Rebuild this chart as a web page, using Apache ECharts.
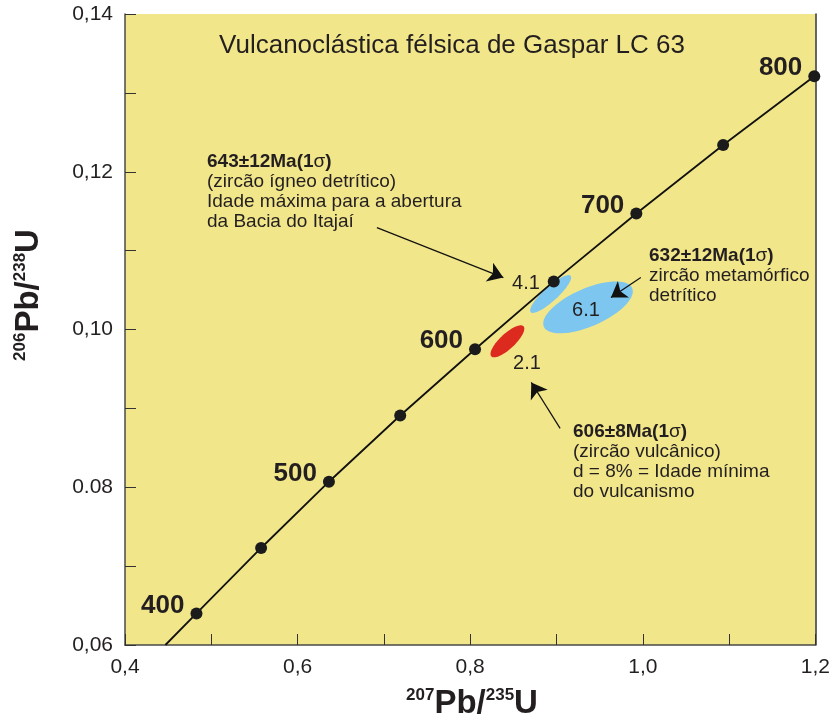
<!DOCTYPE html>
<html><head><meta charset="utf-8">
<script src="https://cdn.jsdelivr.net/npm/echarts@6/dist/echarts.min.js"></script>
<style>html,body{margin:0;padding:0;background:#fff}#c{width:833px;height:724px}</style>
</head><body><div id="c"></div>
<script>
// ---- data ----
var concordiaAges = [400, 450, 500, 550, 600, 650, 700, 750, 800];
var concordiaX = [0.4828, 0.5577, 0.6363, 0.7189, 0.8056, 0.8968, 0.9925, 1.0931, 1.1987];
var concordiaY = [0.0640, 0.0723, 0.0807, 0.0891, 0.0975, 0.1061, 0.1147, 0.1234, 0.1321];
var concordiaStart = [0.4468, 0.0600];
var labelledAges = [400, 500, 600, 700, 800];

var ellipseNames = ['4.1', '6.1', '2.1'];
var ellipseCX = [0.8932, 0.9365, 0.8431];
var ellipseCY = [0.1045, 0.1028, 0.0985];
var ellipseSX = [0.0237, 0.0519, 0.0196];
var ellipseSY = [0.00240, 0.00329, 0.00203];
var ellipseRho = [0.87, 0.62, 0.79];

var arrowFrom = [[0.6919, 0.11291], [0.9977, 0.10658], [0.9042, 0.08747]];
var arrowTo = [[0.8384, 0.10658], [0.9631, 0.10405], [0.8708, 0.09329]];

var yTickValues = [0.06, 0.08, 0.10, 0.12, 0.14];
var yTickLabels = ['0,06', '0.08', '0,10', '0,12', '0,14'];
var xTickValues = [0.4, 0.6, 0.8, 1.0, 1.2];
var xTickLabels = ['0,4', '0,6', '0,8', '1,0', '1,2'];

// ---- styles ----
var FONT = 'Liberation Sans, Arial, sans-serif';
var TXT = '#231f20';
var ellipseColors = {'4.1': '#7cc6ef', '6.1': '#7cc6ef', '2.1': '#dc2a1f'};

var chart = echarts.init(document.getElementById('c'));

function lookup(vals, labs, v) {
  for (var i = 0; i < vals.length; i++) if (Math.abs(vals[i] - v) < 1e-6) return labs[i];
  return '';
}

var linePts = [concordiaStart].concat(concordiaX.map(function (x, i) { return [x, concordiaY[i]]; }));
var dotPts = concordiaX.map(function (x, i) { return [x, concordiaY[i], concordiaAges[i]]; });
var ellData = ellipseNames.map(function (n, i) {
  return {name: n, value: [ellipseCX[i], ellipseCY[i], ellipseSX[i], ellipseSY[i], ellipseRho[i]]};
});
var arrowData = arrowFrom.map(function (f, i) { return {coords: [f, arrowTo[i]]}; });

function txt(x, y, rows) {
  return {type: 'text', x: x, y: y, z: 100, style: {
    text: rows, font: '19px ' + FONT, fill: TXT, lineHeight: 20,
    textVerticalAlign: 'middle',
    rich: {
      b: {fontFamily: FONT, fontSize: 19, fontWeight: 'bold', fill: TXT, lineHeight: 20},
      s: {fontFamily: FONT, fontSize: 19, fill: TXT, lineHeight: 20},
      n: {fontFamily: FONT, fontSize: 19, fill: TXT, lineHeight: 20}
    }
  }};
}

var nameRich = {
  s: {fontFamily: FONT, fontSize: 17, fontWeight: 'bold', fill: TXT, verticalAlign: 'top', lineHeight: 34},
  m: {fontFamily: FONT, fontSize: 33, fontWeight: 'bold', fill: TXT, lineHeight: 34}
};

var option = {
  backgroundColor: '#ffffff',
  animation: false,
  grid: {left: 125, top: 14, right: 15, bottom: 79, show: true, backgroundColor: '#f2e68a', borderWidth: 0},
  xAxis: {
    type: 'value', min: 0.4, max: 1.2, interval: 0.1,
    axisLine: {show: true, onZero: false, lineStyle: {color: '#4a4a4a', width: 1.5}},
    axisTick: {show: true, inside: true, length: 11, lineStyle: {color: '#333', width: 1}},
    splitLine: {show: false},
    axisLabel: {margin: 12, fontFamily: FONT, fontSize: 21, color: TXT,
      formatter: function (v) { return lookup(xTickValues, xTickLabels, v); }}
  },
  yAxis: [{
    type: 'value', min: 0.06, max: 0.14, interval: 0.01,
    axisLine: {show: true, onZero: false, lineStyle: {color: '#4a4a4a', width: 1.5}},
    axisTick: {show: true, inside: true, length: 11, lineStyle: {color: '#333', width: 1}},
    splitLine: {show: false},
    axisLabel: {margin: 12, fontFamily: FONT, fontSize: 21, color: TXT,
      formatter: function (v) { return lookup(yTickValues, yTickLabels, v); }}
  }, {
    type: 'value', min: 0.06, max: 0.14, position: 'right',
    axisLine: {show: true, onZero: false, lineStyle: {color: '#333', width: 1.5}},
    axisTick: {show: false}, axisLabel: {show: false}, splitLine: {show: false}
  }],
  series: [
    {
      type: 'custom', z: 2,
      renderItem: function (params, api) {
        var cx = api.value(0), cy = api.value(1), sx = api.value(2), sy = api.value(3), r = api.value(4);
        var q = Math.sqrt(1 - r * r), pts = [];
        for (var k = 0; k < 72; k++) {
          var t = k / 72 * Math.PI * 2;
          pts.push(api.coord([cx + sx * Math.cos(t), cy + sy * (r * Math.cos(t) + q * Math.sin(t))]));
        }
        var name = ellipseNames[params.dataIndex];
        return {type: 'polygon', shape: {points: pts}, style: {fill: ellipseColors[name], stroke: null}};
      },
      data: ellData
    },
    {
      type: 'line', z: 3, data: linePts, showSymbol: false, symbol: 'none',
      lineStyle: {color: '#111', width: 1.8}, silent: true
    },
    {
      type: 'scatter', z: 4, data: dotPts, symbolSize: 12,
      itemStyle: {color: '#1b1b1b', opacity: 1},
      label: {
        show: true, position: 'left', distance: 6, offset: [0, -8],
        fontFamily: FONT, fontSize: 26, fontWeight: 'bold', color: TXT, opacity: 1,
        formatter: function (p) { return labelledAges.indexOf(p.value[2]) >= 0 ? String(p.value[2]) : ''; }
      }
    },
    {
      type: 'lines', coordinateSystem: 'cartesian2d', z: 5,
      symbol: ['none', 'arrow'], symbolSize: [0, 15],
      lineStyle: {color: '#111', width: 1.2, opacity: 1},
      data: arrowData
    }
  ],
  graphic: [
    {type: 'text', x: 452, y: 46, z: 100, style: {text: 'Vulcanoclástica félsica de Gaspar LC 63',
      font: '26px ' + FONT, fill: TXT, textAlign: 'center', textVerticalAlign: 'middle'}},
    txt(207, 192, '{b|643±12Ma(1}{s|σ}{b|)}\n{n|(zircão ígneo detrítico)}\n{n|Idade máxima para a abertura}\n{n|da Bacia do Itajaí}'),
    txt(649, 276, '{b|632±12Ma(1}{s|σ}{b|)}\n{n|zircão metamórfico}\n{n|detrítico}'),
    txt(573, 462, '{b|606±8Ma(1}{s|σ}{b|)}\n{n|(zircão vulcânico)}\n{n|d = 8% = Idade mínima}\n{n|do vulcanismo}'),
    {type: 'text', x: 526, y: 283, z: 100, style: {text: '4.1', font: '20px ' + FONT, fill: TXT, textAlign: 'center', textVerticalAlign: 'middle'}},
    {type: 'text', x: 586, y: 310, z: 100, style: {text: '6.1', font: '20px ' + FONT, fill: TXT, textAlign: 'center', textVerticalAlign: 'middle'}},
    {type: 'text', x: 527, y: 363, z: 100, style: {text: '2.1', font: '20px ' + FONT, fill: TXT, textAlign: 'center', textVerticalAlign: 'middle'}},
    {type: 'text', x: 472, y: 704, z: 100, style: {
      text: '{s|207}{m|Pb/}{s|235}{m|U}', textAlign: 'center', textVerticalAlign: 'middle', rich: nameRich}},
    {type: 'text', x: 29, y: 295, rotation: Math.PI / 2, z: 100, style: {
      text: '{s|206}{m|Pb/}{s|238}{m|U}', textAlign: 'center', textVerticalAlign: 'middle', rich: nameRich}}
  ]
};
chart.setOption(option);
</script></body></html>
